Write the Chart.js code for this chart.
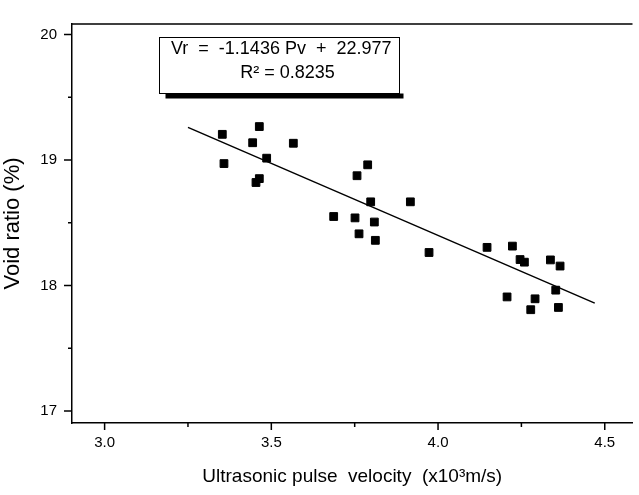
<!DOCTYPE html>
<html>
<head>
<meta charset="utf-8">
<script src="https://cdn.jsdelivr.net/npm/chart.js@4.4.0/dist/chart.umd.min.js"></script>
<style>
  html, body { margin: 0; padding: 0; background: #fff; }
  #wrap { width: 639px; height: 495px; }
</style>
</head>
<body>
<div id="wrap"><canvas id="voidChart" width="639" height="495"></canvas></div>
<script>
// pulse velocity (x10^3 m/s) vs void ratio (%)
const velocity = [3.353, 3.358, 3.444, 3.464, 3.454, 3.464, 3.486, 3.566, 3.687, 3.751,
  3.757, 3.763, 3.789, 3.798, 3.809, 3.812, 3.917, 3.973, 4.147, 4.207,
  4.223, 4.246, 4.259, 4.278, 4.291, 4.337, 4.353, 4.361, 4.366];
const voidRatio = [19.205, 18.972, 19.138, 19.267, 18.821, 18.852, 19.015, 19.134, 18.55, 18.539,
  18.875, 18.412, 18.962, 18.667, 18.506, 18.36, 18.667, 18.263, 18.304, 17.909,
  18.314, 18.207, 18.186, 17.807, 17.894, 18.204, 17.963, 17.825, 18.155];

// linear fit line end points
const fitX = [3.25, 4.47];
const fitY = [19.26, 17.86];

const xTicks = [3.0, 3.5, 4.0, 4.5];
const xMinor = [3.25, 3.75, 4.25];
const yTicks = [17, 18, 19, 20];
const yMinor = [17.5, 18.5, 19.5];

const eqLine = "Vr  =  -1.1436 Pv  +  22.977";
const r2Line = "R\u00B2 = 0.8235";

const FONT = "'Liberation Sans', Arial, sans-serif";

// tick marks (outside), top frame line and the equation box
const frameExtras = {
  id: "frameExtras",
  afterDraw(chart) {
    const ctx = chart.ctx;
    const area = chart.chartArea;
    const x = chart.scales.x;
    const y = chart.scales.y;
    ctx.save();
    ctx.strokeStyle = "#000";
    ctx.lineWidth = 1.5;
    ctx.beginPath();
    ctx.moveTo(area.left, area.top);
    ctx.lineTo(area.right, area.top);
    xTicks.forEach(v => {
      const px = x.getPixelForValue(v);
      ctx.moveTo(px, area.bottom); ctx.lineTo(px, area.bottom + 7);
    });
    xMinor.forEach(v => {
      const px = x.getPixelForValue(v);
      ctx.moveTo(px, area.bottom); ctx.lineTo(px, area.bottom + 4);
    });
    yTicks.forEach(v => {
      const py = y.getPixelForValue(v);
      ctx.moveTo(area.left, py); ctx.lineTo(area.left - 8, py);
    });
    yMinor.forEach(v => {
      const py = y.getPixelForValue(v);
      ctx.moveTo(area.left, py); ctx.lineTo(area.left - 4, py);
    });
    ctx.stroke();

    // equation box
    ctx.font = "18px " + FONT;
    const textLeft = 171;
    const w1 = ctx.measureText(eqLine).width;
    const boxL = 159.5, boxT = 37.5, boxB = 93.5;
    const boxR = Math.round(textLeft + w1 + 8) + 0.5;
    ctx.fillStyle = "#000";
    ctx.fillRect(boxL + 6, boxB, boxR - boxL - 2, 5);
    ctx.fillStyle = "#fff";
    ctx.fillRect(boxL, boxT, boxR - boxL, boxB - boxT);
    ctx.lineWidth = 1;
    ctx.strokeRect(boxL, boxT, boxR - boxL, boxB - boxT);
    ctx.fillStyle = "#000";
    ctx.textBaseline = "middle";
    ctx.textAlign = "left";
    ctx.fillText(eqLine, textLeft, 49);
    ctx.textAlign = "center";
    ctx.fillText(r2Line, (boxL + boxR) / 2 + 8, 73);
    ctx.restore();
  }
};

new Chart(document.getElementById("voidChart"), {
  type: "scatter",
  data: {
    datasets: [
      {
        label: "data",
        data: velocity.map((v, i) => ({ x: v, y: voidRatio[i] })),
        pointStyle: "rect",
        pointRadius: 5.5,
        pointBorderWidth: 1,
        backgroundColor: "#000",
        borderColor: "#000"
      },
      {
        label: "fit",
        type: "line",
        data: fitX.map((v, i) => ({ x: v, y: fitY[i] })),
        borderColor: "#000",
        borderWidth: 1.5,
        pointRadius: 0,
        fill: false
      }
    ]
  },
  options: {
    responsive: false,
    animation: false,
    layout: { padding: { left: 0, right: 0, top: 9, bottom: 0 } },
    plugins: { legend: { display: false }, tooltip: { enabled: false } },
    scales: {
      x: {
        type: "linear",
        min: 2.9022,
        max: 4.5832,
        afterFit: s => { s.height = 72; },
        afterBuildTicks: s => { s.ticks = xTicks.map(v => ({ value: v })); },
        grid: { display: false, drawTicks: false },
        border: { display: true, color: "#000", width: 1.5 },
        ticks: {
          color: "#000",
          font: { family: FONT, size: 15 },
          padding: 11,
          maxRotation: 0,
          callback: v => Number(v).toFixed(1)
        },
        title: {
          display: true,
          text: "Ultrasonic pulse  velocity  (x10\u00B3m/s)",
          color: "#000",
          font: { family: FONT, size: 19 },
          padding: { top: 0, bottom: 7 }
        }
      },
      y: {
        type: "linear",
        min: 16.904,
        max: 20.0845,
        afterFit: s => { s.width = 72; },
        afterBuildTicks: s => { s.ticks = yTicks.map(v => ({ value: v })); },
        grid: { display: false, drawTicks: false },
        border: { display: true, color: "#000", width: 1.5 },
        ticks: {
          color: "#000",
          font: { family: FONT, size: 15 },
          padding: 15,
          callback: v => String(v)
        },
        title: {
          display: true,
          text: "Void ratio (%)",
          color: "#000",
          font: { family: FONT, size: 22 },
          padding: { top: 0, bottom: 6 }
        }
      }
    }
  },
  plugins: [frameExtras]
});
</script>
</body>
</html>
